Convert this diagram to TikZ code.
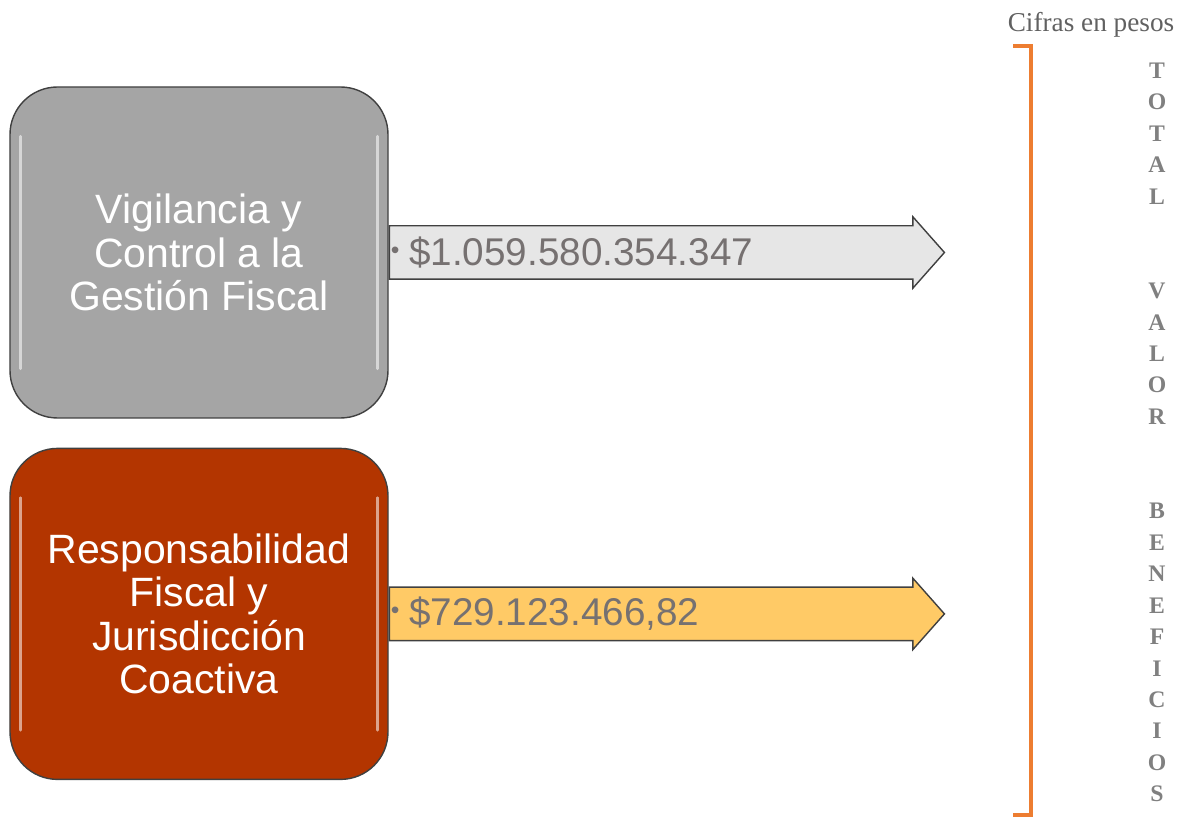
\documentclass[tikz,border=0pt]{standalone}
\usepackage{fontspec}
\newfontfamily\arialf{Liberation Sans}
\newfontfamily\timesf{Liberation Serif}
\usepackage{tikz}
\usetikzlibrary{positioning, shapes.arrows}
\definecolor{boxgray}{HTML}{A5A5A5}
\definecolor{boxred}{HTML}{B33500}
\definecolor{arrgray}{HTML}{E6E6E6}
\definecolor{arrgold}{HTML}{FFCA66}
\definecolor{valgray}{HTML}{767171}
\definecolor{brkorange}{HTML}{ED7D31}

\begin{document}
\begin{tikzpicture}[
    area/.style={draw=black!75, line width=0.8pt, rounded corners=0.95cm,
      minimum width=7.56cm, minimum height=6.62cm, text=white, align=center,
      font=\arialf\fontsize{23.3}{24.8}\selectfont},
    gloss/.style={white, opacity=0.55, line width=1.6pt, line cap=round},
    valarrow/.style={single arrow, draw=black!75, line width=0.8pt, anchor=west,
      minimum height=11.1cm, inner xsep=0pt, inner ysep=0.52cm,
      single arrow head extend=0.18cm, single arrow tip angle=97},
    valtext/.style={font=\arialf\fontsize{22}{24}\selectfont, text=valgray,
      anchor=west, inner sep=0pt}
  ]
  \useasboundingbox (0,0) rectangle (23.8,-16.38);

  % areas
  \node[area, fill=boxgray] (vig) at (3.98,-5.05) {Vigilancia y\\Control a la\\Gesti\'on Fiscal};
  \node[area, fill=boxred, below=0.58cm of vig] (resp) {Responsabilidad\\Fiscal y\\Jurisdicci\'on\\Coactiva};
  \foreach \b in {vig,resp} {
    \draw[gloss] ([xshift=0.22cm,yshift=-1.0cm]\b.north west) -- ([xshift=0.22cm,yshift=1.0cm]\b.south west);
    \draw[gloss] ([xshift=-0.22cm,yshift=-1.0cm]\b.north east) -- ([xshift=-0.22cm,yshift=1.0cm]\b.south east);
  }

  % values
  \node[valarrow, fill=arrgray] (a1) at (vig.east) {};
  \node[valarrow, fill=arrgold] (a2) at (resp.east) {};
  \node[valtext] (v1) at ([xshift=1pt]a1.west) {\raisebox{0.18em}{\fontsize{14}{14}\selectfont\textbullet}\hspace{0.25em}\$1.059.580.354.347};
  \node[valtext] (v2) at ([xshift=1pt]a2.west) {\raisebox{0.18em}{\fontsize{14}{14}\selectfont\textbullet}\hspace{0.25em}\$729.123.466,82};

  % total
  \node[font=\timesf\fontsize{15.5}{17}\selectfont, text=black!62] (cif) at (21.82,-0.5) {Cifras en pesos};
  \draw[brkorange, line width=2pt] (20.26,-0.92) -- (20.62,-0.92) -- (20.62,-16.3) -- (20.26,-16.3);
  \node[font=\timesf\bfseries\fontsize{13.5}{17.9}\selectfont, text=black!50, align=center, inner sep=0pt] (tot) at (23.14,-8.65)
    {T\\O\\T\\A\\L\\[35.8pt]V\\A\\L\\O\\R\\[35.8pt]B\\E\\N\\E\\F\\I\\C\\I\\O\\S};
\end{tikzpicture}
\end{document}
